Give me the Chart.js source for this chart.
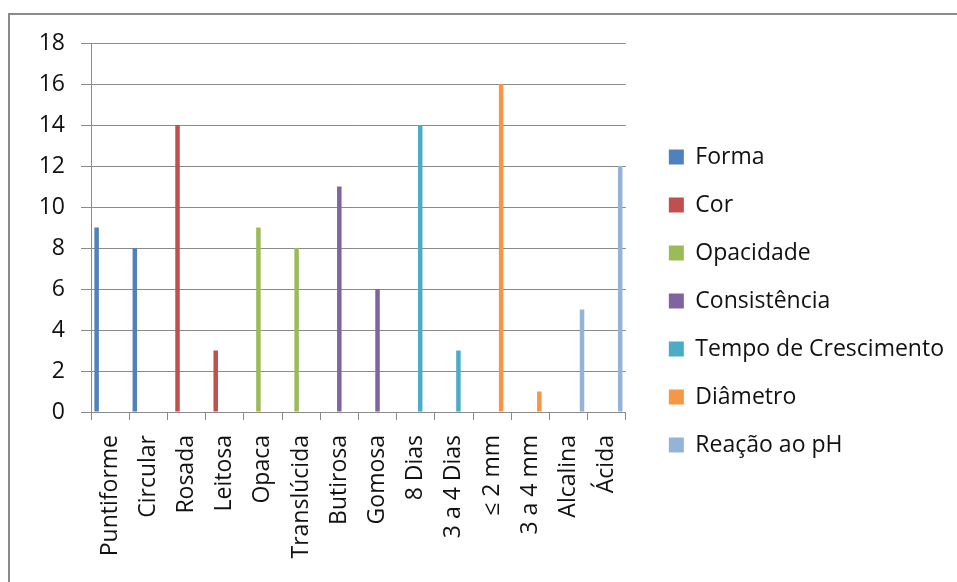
<!DOCTYPE html>
<html>
<head>
<meta charset="utf-8">
<title>Características das colônias</title>
<script src="https://cdn.jsdelivr.net/npm/chart.js@4/dist/chart.umd.min.js"></script>
<style>
  html, body { margin: 0; padding: 0; background: #fff; }
  #frame {
    position: absolute;
    left: 8px;
    top: 13px;
    width: 960px;
    height: 600px;
    border-left: 2px solid #8a8a8a;
    border-top: 2px solid #8a8a8a;
  }
  #canvas { position: absolute; left: 0; top: 0; }
</style>
</head>
<body>
<div id="frame"></div>
<canvas id="canvas" width="957" height="582"></canvas>
<script>
var categories = ["Puntiforme", "Circular", "Rosada", "Leitosa", "Opaca", "Translúcida", "Butirosa",
  "Gomosa", "8 Dias", "3 a 4 Dias", "≤ 2 mm", "3 a 4 mm", "Alcalina", "Ácida"];

var forma        = [9, 8, null, null, null, null, null, null, null, null, null, null, null, null];
var cor          = [null, null, 14, 3, null, null, null, null, null, null, null, null, null, null];
var opacidade    = [null, null, null, null, 9, 8, null, null, null, null, null, null, null, null];
var consistencia = [null, null, null, null, null, null, 11, 6, null, null, null, null, null, null];
var tempo        = [null, null, null, null, null, null, null, null, 14, 3, null, null, null, null];
var diametro     = [null, null, null, null, null, null, null, null, null, null, 16, 1, null, null];
var reacaoPh     = [null, null, null, null, null, null, null, null, null, null, null, null, 5, 12];

var yTicks = [0, 2, 4, 6, 8, 10, 12, 14, 16, 18];

document.addEventListener("DOMContentLoaded", function () {
  var font = "'Open Sans', sans-serif";
  var grey = "#8a8a8a";

  function series(label, values, color) {
    return {
      label: label,
      data: values,
      backgroundColor: color,
      borderWidth: 0,
      categoryPercentage: 7 / 8.5,
      barPercentage: 1,
    };
  }

  var ctx = document.getElementById("canvas");

  var chart = new Chart(ctx, {
    type: "bar",
    data: {
      labels: categories,
      datasets: [
        series("Forma", forma, "#4F81BD"),
        series("Cor", cor, "#C0504D"),
        series("Opacidade", opacidade, "#9BBB59"),
        series("Consistência", consistencia, "#8064A2"),
        series("Tempo de Crescimento", tempo, "#4BACC6"),
        series("Diâmetro", diametro, "#F79646"),
        series("Reação ao pH", reacaoPh, "#95B3D7"),
      ],
    },
    options: {
      responsive: false,
      animation: false,
      events: [],
      layout: {
        padding: { top: 43, left: 0, right: 3, bottom: 23 },
      },
      scales: {
        x: {
          grid: {
            display: true,
            drawOnChartArea: false,
            color: grey,
            tickLength: 8,
            offset: true,
          },
          border: { color: grey },
          ticks: {
            color: "#111",
            font: { family: font, size: 23 },
            minRotation: 90,
            maxRotation: 90,
            padding: 15,
            autoSkip: false,
          },
          afterFit: function (scale) {
            scale.height = 147;
          },
        },
        y: {
          min: 0,
          max: 18,
          grid: { color: grey, tickLength: 10 },
          border: { color: grey },
          afterBuildTicks: function (scale) {
            scale.ticks = yTicks.map(function (v) {
              return { value: v };
            });
          },
          ticks: {
            color: "#111",
            font: { family: font, size: 23 },
            padding: 16,
          },
          afterFit: function (scale) {
            scale.width = 91;
          },
        },
        // empty axis that only keeps the legend clear of the plot
        gap: {
          position: "right",
          display: true,
          grid: { display: false },
          border: { display: false },
          ticks: { display: false },
          afterFit: function (scale) {
            scale.width = 18;
          },
        },
      },
      plugins: {
        tooltip: { enabled: false },
        legend: {
          position: "right",
          align: "center",
          maxWidth: 500,
          labels: {
            color: "#111",
            font: { family: font, size: 23 },
            boxWidth: 15,
            boxHeight: 15,
            padding: 25,
          },
        },
      },
    },
  });
});
</script>
</body>
</html>
